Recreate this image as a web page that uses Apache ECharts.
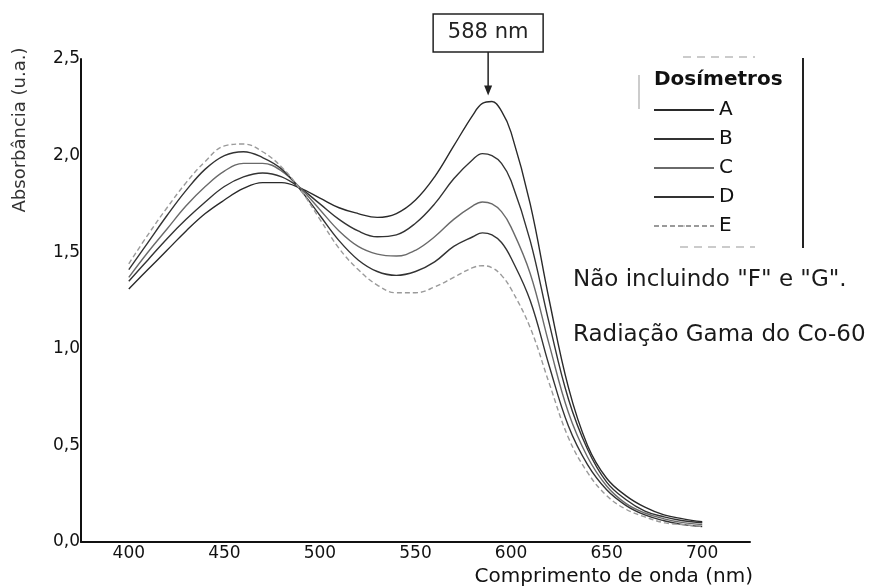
<!DOCTYPE html>
<html>
<head>
<meta charset="utf-8">
<script src="https://cdn.jsdelivr.net/npm/echarts@6/dist/echarts.min.js"></script>
<style>
html, body { margin: 0; padding: 0; background: #fff; }
#chart { width: 883px; height: 587px; }
</style>
</head>
<body>
<div id="chart"></div>
<script>
// comprimento de onda (nm)
var wavelengths = [400, 410, 420, 430, 440, 450, 460, 470, 480, 490, 500, 510, 520, 530, 540, 550, 560, 570, 580, 585, 590, 595, 600, 610, 620, 630, 640, 650, 660, 670, 680, 690, 700];

// absorbância de cada dosímetro
var dosA = [1.31, 1.41, 1.51, 1.61, 1.70, 1.77, 1.83, 1.86, 1.86, 1.83, 1.78, 1.73, 1.70, 1.68, 1.70, 1.77, 1.89, 2.05, 2.21, 2.27, 2.28, 2.23, 2.12, 1.75, 1.25, 0.80, 0.50, 0.33, 0.24, 0.18, 0.14, 0.12, 0.105];
var dosB = [1.35, 1.46, 1.57, 1.67, 1.76, 1.84, 1.89, 1.91, 1.89, 1.83, 1.75, 1.67, 1.61, 1.58, 1.59, 1.65, 1.75, 1.88, 1.98, 2.01, 2.00, 1.96, 1.87, 1.56, 1.13, 0.74, 0.48, 0.31, 0.22, 0.16, 0.13, 0.11, 0.10];
var dosC = [1.37, 1.50, 1.62, 1.74, 1.84, 1.92, 1.96, 1.96, 1.92, 1.83, 1.72, 1.61, 1.53, 1.49, 1.48, 1.51, 1.58, 1.67, 1.74, 1.76, 1.75, 1.71, 1.63, 1.39, 1.02, 0.67, 0.44, 0.29, 0.20, 0.15, 0.12, 0.10, 0.09];
var dosD = [1.41, 1.55, 1.69, 1.82, 1.93, 2.00, 2.02, 1.99, 1.93, 1.82, 1.69, 1.56, 1.46, 1.40, 1.38, 1.40, 1.45, 1.53, 1.58, 1.60, 1.59, 1.55, 1.47, 1.25, 0.91, 0.60, 0.40, 0.27, 0.19, 0.14, 0.11, 0.09, 0.08];
var dosE = [1.44, 1.59, 1.73, 1.86, 1.97, 2.05, 2.06, 2.02, 1.94, 1.82, 1.67, 1.52, 1.41, 1.33, 1.29, 1.29, 1.32, 1.37, 1.42, 1.43, 1.42, 1.38, 1.31, 1.11, 0.82, 0.54, 0.36, 0.24, 0.17, 0.13, 0.10, 0.09, 0.08];

var names = ['A', 'B', 'C', 'D', 'E'];
var xLabels = [400, 450, 500, 550, 600, 650, 700];
var peakNm = 588;

var FONT = 'DejaVu Sans';

function pairs(vals) {
    return wavelengths.map(function (w, i) { return [w, vals[i]]; });
}

var chart = echarts.init(document.getElementById('chart'));

var styles = [
    { color: '#2a2a2a', type: 'solid' },
    { color: '#333333', type: 'solid' },
    { color: '#6a6a6a', type: 'solid' },
    { color: '#333333', type: 'solid' },
    { color: '#9a9a9a', type: [5, 3] }
];
var allData = [dosA, dosB, dosC, dosD, dosE];

var series = names.map(function (n, i) {
    return {
        name: n,
        type: 'line',
        smooth: 0.4,
        symbol: 'none',
        data: pairs(allData[i]),
        lineStyle: { color: styles[i].color, width: 1.4, type: styles[i].type },
        itemStyle: { color: styles[i].color }
    };
});

chart.setOption({
    animation: false,
    backgroundColor: '#fff',
    grid: { left: 81, right: 133, top: 59, bottom: 45, containLabel: false },
    xAxis: {
        type: 'value',
        min: 375,
        max: 725,
        interval: 25,
        axisLine: { show: true, lineStyle: { color: '#111', width: 2 } },
        axisTick: { show: false },
        splitLine: { show: false },
        axisLabel: {
            margin: 3,
            fontSize: 17,
            fontFamily: FONT,
            color: '#111',
            formatter: function (v) {
                return xLabels.indexOf(v) >= 0 ? String(v) : '';
            }
        }
    },
    yAxis: {
        type: 'value',
        min: 0,
        max: 2.5,
        interval: 0.5,
        axisLine: { show: true, lineStyle: { color: '#111', width: 2 } },
        axisTick: { show: false },
        splitLine: { show: false },
        axisLabel: {
            margin: 1,
            fontSize: 17,
            fontFamily: FONT,
            color: '#111',
            padding: [0, 0, 8, 0],
            formatter: function (v) { return v.toFixed(1).replace('.', ','); }
        }
    },
    legend: {
        orient: 'vertical',
        left: 653,
        top: 100,
        padding: 0,
        itemWidth: 60,
        itemHeight: 2,
        itemGap: 9,
        data: names,
        textStyle: { fontSize: 20, lineHeight: 20, fontFamily: FONT, color: '#111' }
    },
    series: series
});

// anotação do pico
var peakVal = Math.max.apply(null, dosA);
var p = chart.convertToPixel({ gridIndex: 0 }, [peakNm, peakVal]);
var tipY = p[1] - 6;

chart.setOption({
    graphic: [
        // título do eixo y
        {
            type: 'text', x: 20, y: 130, rotation: Math.PI / 2,
            style: { text: 'Absorbância (u.a.)', font: '18px "DejaVu Sans"', fill: '#333', align: 'center', verticalAlign: 'middle' }
        },
        // título do eixo x
        {
            type: 'text', x: 753, y: 577,
            style: { text: 'Comprimento de onda (nm)', font: '20px "DejaVu Sans"', fill: '#111', align: 'right', verticalAlign: 'middle' }
        },
        // caixa 588 nm
        {
            type: 'rect', shape: { x: p[0] - 55, y: 14, width: 110, height: 38 },
            style: { fill: '#fff', stroke: '#222', lineWidth: 1.5 }
        },
        {
            type: 'text', x: p[0], y: 33,
            style: { text: peakNm + ' nm', font: '21px "DejaVu Sans"', fill: '#222', align: 'center', verticalAlign: 'middle' }
        },
        {
            type: 'line', shape: { x1: p[0], y1: 52, x2: p[0], y2: tipY - 6 },
            style: { stroke: '#222', lineWidth: 1.5 }
        },
        {
            type: 'polygon', shape: { points: [[p[0] - 4, tipY - 10], [p[0] + 4, tipY - 10], [p[0], tipY]] },
            style: { fill: '#222' }
        },
        // legenda
        {
            type: 'text', x: 654, y: 80,
            style: { text: 'Dosímetros', font: 'bold 20px "DejaVu Sans"', fill: '#111', align: 'left', verticalAlign: 'middle' }
        },
        {
            type: 'line', shape: { x1: 803, y1: 58, x2: 803, y2: 248 },
            style: { stroke: '#222', lineWidth: 2 }
        },
        {
            type: 'line', shape: { x1: 639, y1: 75, x2: 639, y2: 109 },
            style: { stroke: '#aaa', lineWidth: 1.2 }
        },
        {
            type: 'line', shape: { x1: 683, y1: 57, x2: 755, y2: 57 },
            style: { stroke: '#bbb', lineWidth: 1.5, lineDash: [8, 6] }
        },
        {
            type: 'line', shape: { x1: 680, y1: 247, x2: 755, y2: 247 },
            style: { stroke: '#bbb', lineWidth: 1.5, lineDash: [8, 6] }
        },
        // notas
        {
            type: 'text', x: 573, y: 280,
            style: { text: 'Não incluindo "F" e "G".', font: '23px "DejaVu Sans"', fill: '#1a1a1a', align: 'left', verticalAlign: 'middle' }
        },
        {
            type: 'text', x: 573, y: 335,
            style: { text: 'Radiação Gama do Co-60', font: '23px "DejaVu Sans"', fill: '#1a1a1a', align: 'left', verticalAlign: 'middle' }
        }
    ]
});
</script>
</body>
</html>
